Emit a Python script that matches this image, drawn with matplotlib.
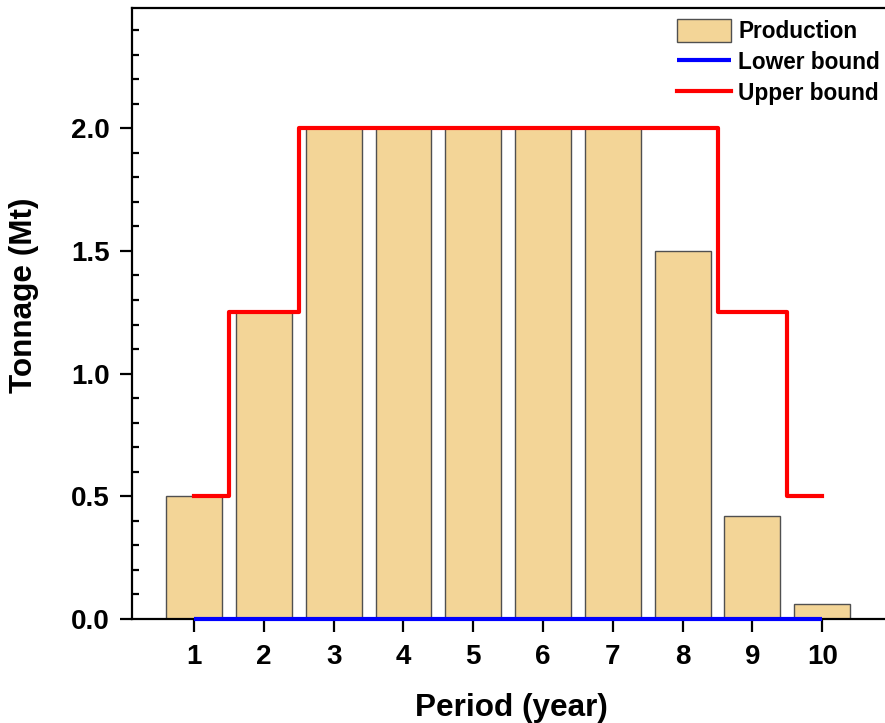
import numpy as np
import matplotlib.pyplot as plt
from matplotlib.ticker import MultipleLocator

# data
periods = np.arange(1, 11)
production = [0.5, 1.25, 2.0, 2.0, 2.0, 2.0, 2.0, 1.5, 0.42, 0.06]
lower_bound = [0, 0, 0, 0, 0, 0, 0, 0, 0, 0]
upper_bound = [0.5, 1.25, 2.0, 2.0, 2.0, 2.0, 2.0, 2.0, 1.25, 0.5]

plt.rcParams['font.family'] = ['Liberation Sans', 'DejaVu Sans']
plt.rcParams['font.weight'] = 'bold'

fig = plt.figure(figsize=(8.85, 7.23), dpi=100)
ax = fig.add_axes([132 / 885, 104 / 723, 753 / 885, 611 / 723])

bars = ax.bar(periods, production, width=0.8, color='#F3D597', edgecolor='#505050',
              linewidth=1.0, label='Production', zorder=2)
lo, = ax.plot(periods, lower_bound, color='#0000FF', lw=3, label='Lower bound',
              zorder=4, clip_on=False, solid_capstyle='butt')
up, = ax.step(periods, upper_bound, where='mid', color='#FF0000', lw=3,
              label='Upper bound', zorder=3)

ax.set_xlim(0.11, 10.9)
ax.set_ylim(0, 2.49)
ax.set_xticks(periods)
ax.yaxis.set_major_locator(MultipleLocator(0.5))
ax.yaxis.set_minor_locator(MultipleLocator(0.1))
ax.yaxis.set_major_formatter(plt.FormatStrFormatter('%.1f'))

for s in ['left', 'bottom', 'top']:
    ax.spines[s].set_linewidth(1.6)
ax.spines['right'].set_visible(False)

ax.tick_params(axis='both', which='major', direction='out', length=9,
               width=1.6, labelsize=20, pad=7)
ax.tick_params(axis='x', which='major', pad=9)
ax.tick_params(axis='y', which='minor', direction='in', length=5, width=1.6)
ax.tick_params(axis='x', which='minor', bottom=False)

ax.set_xlabel('Period (year)', fontsize=22.7, fontweight='bold')
ax.set_ylabel('Tonnage (Mt)', fontsize=22.7, fontweight='bold')
ax.xaxis.set_label_coords((511 - 132) / 753, -(693 - 619) / 611)
ax.yaxis.set_label_coords(-(132 - 39) / 753, (619 - 295) / 611)

ax.legend([bars, lo, up], ['Production', 'Lower bound', 'Upper bound'],
          loc='upper left', bbox_to_anchor=((677 - 132) / 753, (619 - 19) / 611),
          frameon=False, fontsize=16.3, borderpad=0, handlelength=2.4,
          handleheight=1.2, handletextpad=0.3, labelspacing=0.3,
          borderaxespad=0)

fig.savefig('out.png', dpi=100)
